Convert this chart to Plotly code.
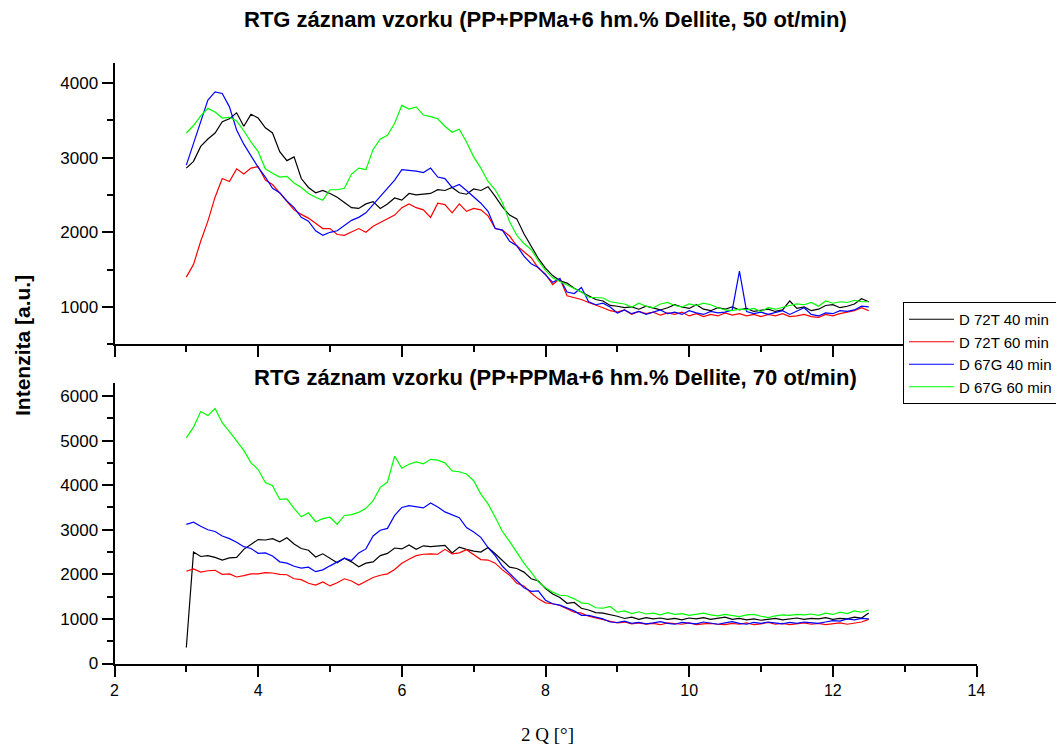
import plotly.graph_objects as go

# 2-theta sampling grid (degrees)
two_theta = [round(3.0 + 0.1 * i, 1) for i in range(96)]

series_names = ["D 72T 40 min", "D 72T 60 min", "D 67G 40 min", "D 67G 60 min"]
series_colors = ["#000000", "#FF0000", "#0000FF", "#00FF00"]

# ---- upper panel: 50 ot/min ----
top_72T_40 = [2860, 2950, 3150, 3250, 3330, 3480, 3520, 3600, 3420, 3580,
              3530, 3400, 3330, 3080, 2960, 3010, 2720, 2600, 2530, 2560,
              2520, 2470, 2400, 2330, 2320, 2380, 2410, 2320, 2380, 2460,
              2430, 2520, 2500, 2510, 2520, 2570, 2560, 2600, 2530, 2510,
              2580, 2560, 2610, 2480, 2340, 2230, 2180, 1980, 1820, 1650,
              1520, 1420, 1350, 1320, 1250, 1200, 1150, 1100, 1080, 1020,
              1010, 990, 1000, 970, 1010, 980, 960, 990, 1030, 1000,
              980, 1030, 970, 950, 990, 970, 1000, 960, 980, 940,
              960, 970, 940, 960, 1080, 980, 1000, 950, 970, 1020,
              1030, 990, 1010, 1040, 1110, 1070]
top_72T_60 = [1400, 1570, 1880, 2150, 2470, 2720, 2680, 2850, 2780, 2860,
              2880, 2700, 2640, 2530, 2410, 2300, 2240, 2190, 2120, 2050,
              2050, 1970, 1960, 2010, 2050, 2000, 2080, 2130, 2180, 2230,
              2330, 2380, 2330, 2300, 2200, 2390, 2370, 2260, 2380, 2280,
              2320, 2300, 2220, 2050, 2030, 1950, 1820, 1740, 1660, 1520,
              1440, 1300, 1380, 1150, 1130, 1100, 1060, 1030, 990, 950,
              930, 960, 900, 940, 910, 930, 890, 920, 900, 930,
              880, 910, 870, 900, 880, 920, 890, 910, 880, 900,
              870, 900, 880, 910, 870, 880, 900, 870, 860, 900,
              880, 910, 930, 950, 990, 950]
top_67G_40 = [2900, 3200, 3500, 3770, 3880, 3860, 3680, 3370, 3180, 3020,
              2870, 2740, 2590, 2530, 2420, 2330, 2200, 2150, 2020, 1960,
              2000, 2020, 2090, 2160, 2200, 2260, 2370, 2480, 2580, 2700,
              2840, 2830, 2820, 2800, 2860, 2740, 2720, 2600, 2640, 2560,
              2480, 2390, 2280, 2050, 2030, 1880, 1820, 1680, 1580, 1530,
              1430, 1330, 1380, 1200, 1180, 1260, 1070, 1030, 1050, 1000,
              920, 960, 910, 940, 900, 930, 960, 910, 930, 900,
              950, 920, 900, 940, 920, 930, 960, 1480, 940, 910,
              930, 900, 920, 950, 900, 940, 990, 900, 880, 920,
              910, 950, 940, 960, 1010, 1000]
top_67G_60 = [3330, 3430, 3560, 3660, 3610, 3530, 3540, 3490, 3360, 3210,
              3080, 2850, 2790, 2740, 2750, 2660, 2600, 2520, 2470, 2430,
              2570, 2570, 2590, 2780, 2860, 2840, 3110, 3250, 3300, 3460,
              3700, 3650, 3680, 3570, 3550, 3520, 3420, 3340, 3380, 3210,
              3010, 2860, 2680, 2570, 2400, 2140, 1960, 1850, 1770, 1620,
              1490, 1390, 1340, 1290, 1250, 1200, 1130, 1130, 1120, 1070,
              1060, 1040, 1000, 1050, 1010, 990, 1040, 1060, 1020, 1000,
              1040, 1020, 1050, 1030, 990, 960, 950, 970, 960, 980,
              940, 990, 970, 1000, 1020, 1040, 1030, 1060, 1010, 1080,
              1050, 1070, 1060, 1090, 1070, 1070]

# ---- lower panel: 70 ot/min ----
bot_72T_40 = [360, 2500, 2400, 2420, 2380, 2320, 2370, 2380, 2560, 2680,
              2780, 2770, 2800, 2730, 2820, 2680, 2580, 2540, 2390, 2460,
              2360, 2260, 2360, 2280, 2170, 2250, 2280, 2420, 2470, 2590,
              2570, 2660, 2560, 2640, 2620, 2630, 2650, 2480, 2610, 2560,
              2520, 2500, 2600, 2460, 2300, 2160, 2130, 2050, 1900, 1850,
              1680, 1560, 1480, 1350, 1370, 1240, 1200, 1140, 1130, 1100,
              1060, 1010, 1040, 990, 1030, 1000, 1020, 990, 1010, 980,
              1020, 1000, 1030, 990, 1010, 1040, 990, 1010, 980, 1000,
              970, 990, 1010, 980, 1000, 1020, 990, 1010, 1000, 1030,
              990, 1010, 1000, 1040, 1020, 1130]
bot_72T_60 = [2070, 2120, 2050, 2080, 2090, 2000, 2010, 1940, 1970, 2010,
              2010, 2040, 2030, 2000, 1990, 1900, 1880, 1800, 1760, 1830,
              1740, 1810, 1900, 1850, 1760, 1840, 1930, 1980, 2010, 2110,
              2250, 2340, 2420, 2450, 2460, 2450, 2560, 2460, 2480, 2550,
              2440, 2330, 2320, 2250, 2100, 1980, 1800, 1740, 1580, 1450,
              1360, 1340, 1300, 1230, 1150, 1130, 1060, 1020, 980, 940,
              910, 930, 890, 910, 880, 900, 870, 910, 900, 880,
              910, 870, 890, 900, 880, 870, 900, 880, 910, 870,
              890, 920, 880, 900, 870, 890, 910, 880, 900, 870,
              890, 910, 880, 900, 930, 990]
bot_67G_40 = [3120, 3170, 3080, 3000, 2960, 2860, 2800, 2720, 2620, 2580,
              2470, 2480, 2410, 2280, 2250, 2180, 2140, 2160, 2060, 2100,
              2190, 2270, 2360, 2310, 2480, 2570, 2860, 2990, 3030, 3320,
              3500, 3540, 3520, 3490, 3600, 3510, 3400, 3330, 3270, 3050,
              2950, 2830, 2600, 2420, 2180, 2020, 1870, 1700, 1620, 1630,
              1420, 1340, 1310, 1240, 1180, 1080, 1080, 1040, 1000, 930,
              920, 950, 900, 920, 890, 910, 940, 900, 880, 920,
              900, 890, 930, 900, 880, 910, 940, 900, 880, 920,
              900, 930, 910, 890, 920, 900, 930, 910, 900, 930,
              960, 950, 1000, 980, 1010, 1000]
bot_67G_60 = [5060, 5300, 5650, 5560, 5720, 5400, 5200, 4980, 4780, 4500,
              4350, 4060, 3990, 3680, 3690, 3480, 3290, 3380, 3180, 3250,
              3280, 3120, 3320, 3340, 3390, 3480, 3650, 3950, 4070, 4650,
              4380, 4470, 4520, 4480, 4580, 4560, 4500, 4320, 4300, 4250,
              4100, 3800, 3580, 3280, 2960, 2740, 2480, 2250, 2050, 1830,
              1700, 1600, 1530, 1520, 1450, 1360, 1340, 1250, 1240, 1280,
              1150, 1180, 1120, 1160, 1110, 1130, 1090, 1140, 1100, 1120,
              1080, 1110, 1130, 1090, 1070, 1100, 1080, 1050, 1090, 1100,
              1060, 1030, 1070, 1090, 1080, 1100, 1090, 1110, 1080, 1130,
              1100, 1150, 1120, 1180, 1150, 1200]

top_series = [top_72T_40, top_72T_60, top_67G_40, top_67G_60]
bot_series = [bot_72T_40, bot_72T_60, bot_67G_40, bot_67G_60]

title_top = "RTG záznam vzorku (PP+PPMa+6 hm.% Dellite, 50 ot/min)"
title_bot = "RTG záznam vzorku (PP+PPMa+6 hm.% Dellite, 70 ot/min)"
y_title = "Intenzita [a.u.]"
x_title = "2 Q [°]"

W, H = 1064, 744
OFF = 8  # page body margin: picture pixel = figure pixel + 8
SANS = "Liberation Sans, Arial, sans-serif"


def px(x):
    return (x - OFF) / W


def py(y):
    return 1 - (y - OFF) / H


fig = go.Figure()
for name, col, ys in zip(series_names, series_colors, top_series):
    fig.add_trace(go.Scatter(x=two_theta, y=ys, mode="lines", name=name,
                             line=dict(color=col, width=1.2),
                             xaxis="x", yaxis="y", showlegend=True))
for name, col, ys in zip(series_names, series_colors, bot_series):
    fig.add_trace(go.Scatter(x=two_theta, y=ys, mode="lines", name=name,
                             line=dict(color=col, width=1.2),
                             xaxis="x2", yaxis="y2", showlegend=False))

xdom = [px(114.5), px(976.5)]
axis_common = dict(showgrid=False, zeroline=False, showline=True,
                   linecolor="black", linewidth=2, ticks="outside",
                   ticklen=11, tickwidth=1.5, tickcolor="black")
minor_common = dict(ticks="outside", ticklen=6, tickcolor="black", tickwidth=1.5)

fig.update_layout(
    width=W, height=H,
    margin=dict(l=0, r=0, t=0, b=0, autoexpand=False),
    paper_bgcolor="white", plot_bgcolor="white",
    font=dict(family=SANS, color="black"),
    xaxis=dict(domain=xdom, range=[2, 14], anchor="y", dtick=2, tick0=2,
               showticklabels=False, minor=dict(dtick=1, **minor_common),
               **axis_common),
    yaxis=dict(domain=[py(344.3), py(62.8)], range=[500, 4270], anchor="x",
               dtick=1000, tick0=0, tickfont=dict(size=17, family=SANS),
               minor=dict(dtick=500, **minor_common), **axis_common),
    xaxis2=dict(domain=xdom, range=[2, 14], anchor="y2", dtick=2, tick0=2,
                tickfont=dict(size=16, family="Liberation Sans Narrow, Arial Narrow, Liberation Sans, sans-serif"),
                minor=dict(dtick=1, **minor_common), **axis_common),
    yaxis2=dict(domain=[py(663.5), py(382.6)], range=[0, 6300], anchor="x2",
                dtick=1000, tick0=0, tickfont=dict(size=17, family=SANS),
                minor=dict(dtick=500, **minor_common), **axis_common),
    legend=dict(x=px(903), y=py(302), xanchor="left", yanchor="top",
                bgcolor="white", bordercolor="black", borderwidth=1,
                font=dict(size=15, family=SANS), itemwidth=45,
                tracegroupgap=0),
    showlegend=True,
)

fig.add_annotation(text="<b>" + title_top + "</b>", x=px(545), y=py(20),
                   xref="paper", yref="paper", showarrow=False,
                   xanchor="center", yanchor="middle",
                   font=dict(size=22, family=SANS, color="black"))
fig.add_annotation(text="<b>" + title_bot + "</b>", x=px(555), y=py(377),
                   xref="paper", yref="paper", showarrow=False,
                   xanchor="center", yanchor="middle",
                   font=dict(size=22, family=SANS, color="black"))
fig.add_annotation(text="<b>" + y_title + "</b>", x=px(22), y=py(346),
                   xref="paper", yref="paper", showarrow=False, textangle=-90,
                   xanchor="center", yanchor="middle",
                   font=dict(size=21, family=SANS, color="black"))
fig.add_annotation(text=x_title, x=px(547), y=py(734),
                   xref="paper", yref="paper", showarrow=False,
                   xanchor="center", yanchor="middle",
                   font=dict(size=19, family="Liberation Serif, Times New Roman, serif", color="black"))

fig.write_html("out.html")
